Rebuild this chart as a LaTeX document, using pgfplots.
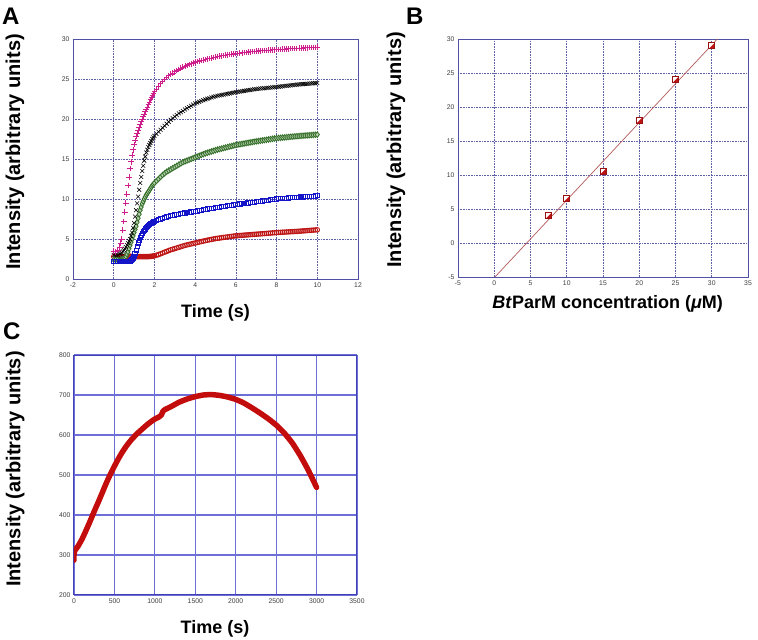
\documentclass[border=0pt]{standalone}
\usepackage{fontspec}
\setmainfont{Liberation Sans}
\usepackage{pgfplots}
\usepackage{pgfplotstable}
\pgfplotsset{compat=1.18}
\definecolor{axblue}{RGB}{80,80,165}
\definecolor{gridblue}{RGB}{95,95,165}
\definecolor{gridC}{RGB}{110,110,215}
\definecolor{magen}{RGB}{205,30,140}
\definecolor{dgreen}{RGB}{50,110,40}
\definecolor{lgreen}{RGB}{185,205,175}
\definecolor{mblue}{RGB}{20,20,200}
\definecolor{mred}{RGB}{190,20,20}
\definecolor{cred}{RGB}{195,12,12}
\definecolor{lineB}{RGB}{180,90,90}
\definecolor{tickgray}{RGB}{60,60,60}

\pgfdeclareplotmark{halfsq}{%
  \pgfpathrectangle{\pgfpoint{-\pgfplotmarksize}{-\pgfplotmarksize}}{\pgfpoint{2\pgfplotmarksize}{2\pgfplotmarksize}}%
  \pgfsetfillcolor{white}\pgfusepath{fill}%
  \pgfpathmoveto{\pgfpoint{-\pgfplotmarksize}{-\pgfplotmarksize}}%
  \pgfpathlineto{\pgfpoint{\pgfplotmarksize}{-\pgfplotmarksize}}%
  \pgfpathlineto{\pgfpoint{\pgfplotmarksize}{\pgfplotmarksize}}%
  \pgfpathclose
  \pgfsetfillcolor{mred}\pgfusepath{fill}%
  \pgfpathrectangle{\pgfpoint{-\pgfplotmarksize}{-\pgfplotmarksize}}{\pgfpoint{2\pgfplotmarksize}{2\pgfplotmarksize}}%
  \pgfusepath{stroke}%
}

\pgfplotstableread{
t m k g b r
0.0 3.5 3.0 2.4 2.2 2.8
0.1 3.4 3.0 2.4 2.2 2.75
0.2 3.6 3.0 2.4 2.2 2.8
0.3 4.0 3.1 2.4 2.2 2.85
0.35 4.5 3.2 2.42 2.2 2.82
0.4 5.0 3.3 2.45 2.2 2.8
0.45 6.1 3.45 2.47 2.2 2.78
0.5 7.2 3.6 2.5 2.2 2.75
0.55 8.35 3.8 2.65 2.2 2.78
0.6 9.5 4.0 2.8 2.2 2.8
0.65 10.6 4.25 3.1 2.2 2.8
0.7 11.7 4.5 3.4 2.2 2.8
0.75 12.75 4.75 3.8 2.2 2.82
0.8 13.8 5.0 4.2 2.2 2.85
0.85 14.65 5.4 4.6 2.3 2.82
0.9 15.5 5.8 5.0 2.4 2.8
0.95 16.15 6.4 5.4 2.6 2.78
1.0 16.8 7.0 5.8 2.8 2.75
1.05 17.3 7.8 6.2 3.2 2.78
1.1 17.8 8.6 6.6 3.6 2.8
1.15 18.2 9.45 7.1 4.05 2.8
1.2 18.6 10.3 7.6 4.5 2.8
1.25 18.95 11.15 8.1 4.85 2.8
1.3 19.3 12.0 8.6 5.2 2.8
1.35 19.65 12.75 9.0 5.45 2.8
1.4 20.0 13.5 9.4 5.7 2.8
1.45 20.3 14.15 9.7 5.9 2.8
1.5 20.6 14.8 10.0 6.1 2.8
1.55 20.9 15.3 10.25 6.25 2.8
1.6 21.2 15.8 10.5 6.4 2.8
1.65 21.5 16.15 10.7 6.55 2.8
1.7 21.8 16.5 10.9 6.7 2.8
1.75 22.1 16.75 11.1 6.8 2.81
1.8 22.4 17.0 11.3 6.9 2.82
1.85 22.65 17.25 11.5 6.98 2.83
1.9 22.9 17.5 11.7 7.05 2.85
1.95 23.15 17.7 11.85 7.13 2.87
2.0 23.4 17.9 12.0 7.2 2.9
2.1 23.75 18.15 12.25 7.3 2.97
2.2 24.1 18.4 12.5 7.4 3.05
2.3 24.4 18.65 12.75 7.5 3.15
2.4 24.7 18.9 13.0 7.6 3.25
2.5 24.95 19.15 13.2 7.68 3.35
2.6 25.2 19.4 13.4 7.75 3.45
2.7 25.4 19.65 13.55 7.83 3.55
2.8 25.6 19.9 13.7 7.9 3.65
2.9 25.75 20.1 13.85 7.95 3.72
3.0 25.9 20.3 14.0 8.0 3.8
3.1 26.05 20.5 14.15 8.05 3.88
3.2 26.2 20.7 14.3 8.1 3.96
3.3 26.35 20.85 14.45 8.15 4.04
3.4 26.5 21.0 14.6 8.2 4.12
3.5 26.6 21.2 14.7 8.25 4.2
3.6 26.7 21.35 14.8 8.29 4.26
3.7 26.8 21.5 14.9 8.33 4.32
3.8 26.9 21.65 15.0 8.37 4.38
3.9 27.0 21.8 15.1 8.41 4.44
4.0 27.1 21.95 15.2 8.45 4.5
4.1 27.17 22.05 15.3 8.5 4.56
4.2 27.24 22.15 15.4 8.55 4.62
4.3 27.31 22.25 15.5 8.6 4.68
4.4 27.38 22.35 15.6 8.65 4.74
4.5 27.45 22.45 15.7 8.7 4.8
4.6 27.51 22.53 15.78 8.74 4.85
4.7 27.57 22.61 15.86 8.78 4.9
4.8 27.63 22.69 15.94 8.82 4.95
4.9 27.69 22.77 16.02 8.86 5.0
5.0 27.75 22.85 16.1 8.9 5.05
5.1 27.8 22.9 16.17 8.94 5.09
5.2 27.85 22.95 16.24 8.98 5.12
5.3 27.9 23.0 16.3 9.02 5.16
5.4 27.94 23.05 16.37 9.06 5.19
5.5 27.98 23.1 16.43 9.1 5.23
5.6 28.02 23.15 16.5 9.14 5.26
5.7 28.06 23.2 16.56 9.18 5.3
5.8 28.1 23.25 16.62 9.22 5.33
5.9 28.14 23.3 16.69 9.26 5.37
6.0 28.18 23.35 16.75 9.3 5.4
6.1 28.21 23.39 16.8 9.33 5.42
6.2 28.24 23.43 16.84 9.37 5.44
6.3 28.27 23.47 16.89 9.4 5.46
6.4 28.3 23.51 16.93 9.44 5.48
6.5 28.33 23.55 16.98 9.47 5.5
6.6 28.36 23.59 17.02 9.51 5.52
6.7 28.39 23.63 17.07 9.54 5.54
6.8 28.42 23.67 17.11 9.58 5.56
6.9 28.45 23.71 17.16 9.61 5.58
7.0 28.48 23.75 17.2 9.65 5.6
7.1 28.5 23.78 17.24 9.68 5.62
7.2 28.52 23.8 17.28 9.72 5.64
7.3 28.54 23.83 17.32 9.75 5.66
7.4 28.56 23.85 17.36 9.79 5.68
7.5 28.58 23.88 17.4 9.82 5.7
7.6 28.6 23.9 17.44 9.86 5.72
7.7 28.62 23.93 17.48 9.89 5.74
7.8 28.64 23.95 17.52 9.93 5.76
7.9 28.66 23.98 17.56 9.96 5.78
8.0 28.68 24.0 17.6 10.0 5.8
8.1 28.7 24.03 17.63 10.02 5.82
8.2 28.71 24.06 17.65 10.04 5.83
8.3 28.73 24.09 17.68 10.06 5.85
8.4 28.74 24.12 17.7 10.08 5.86
8.5 28.76 24.15 17.73 10.1 5.88
8.6 28.77 24.18 17.75 10.12 5.89
8.7 28.79 24.21 17.78 10.14 5.91
8.8 28.8 24.24 17.8 10.16 5.92
8.9 28.82 24.27 17.83 10.18 5.94
9.0 28.83 24.3 17.85 10.2 5.95
9.1 28.85 24.32 17.87 10.22 5.97
9.2 28.86 24.34 17.89 10.24 5.99
9.3 28.87 24.36 17.91 10.26 6.01
9.4 28.89 24.38 17.93 10.28 6.03
9.5 28.9 24.4 17.95 10.3 6.05
9.6 28.92 24.42 17.97 10.32 6.07
9.7 28.93 24.44 17.99 10.34 6.09
9.8 28.95 24.46 18.01 10.36 6.11
9.9 28.96 24.48 18.03 10.38 6.13
10.0 28.98 24.5 18.05 10.4 6.15
}\kinetics

\pgfplotstableread{
c I
7.5 4.0
10 6.5
15 10.5
20 18.0
25 24.0
30 29.0
}\standard

\pgfplotstableread{
x y
0.1 -5.0
30.77 30.0
}\fitline

\pgfplotstableread{
t v
0 287
0 300
10 311
50 322
100 340
150 362
200 385
250 409
300 432
350 456
400 480
450 502
500 522
550 541
600 558
650 573
700 586
750 597
800 607
850 616
900 625
950 633
1000 640
1050 645
1080 650
1100 659
1120 663
1200 671
1300 682
1400 690
1500 696
1600 700
1700 701
1800 699
1900 695
2000 689
2100 680
2200 668
2300 655
2400 641
2500 625
2600 605
2700 580
2800 548
2900 511
3000 469
}\slow

\pgfplotsset{
  myax/.style={
    scale only axis,
    axis line style={draw=axblue, line width=0.8pt},
    major tick length=0pt,
    tick label style={font=\fontsize{6.8}{7}\selectfont, text=tickgray},
    /pgf/number format/assume math mode=true,
    /pgf/number format/1000 sep={},
    scaled ticks=false,
    grid=major,
    major grid style={draw=gridblue, line width=0.6pt, dash pattern=on 0.8pt off 0.8pt},
    xlabel style={anchor=center, font=\fontsize{18}{18}\selectfont\bfseries},
    ylabel style={anchor=center, font=\fontsize{20}{20}\selectfont\bfseries},
  }
}

\begin{document}
\begin{tikzpicture}
\path[use as bounding box] (0,0) rectangle (758pt,640pt);

% Panel A
\begin{axis}[myax, at={(73pt,361pt)}, anchor=south west,
  width=285pt, height=240pt,
  xmin=-2, xmax=12, ymin=0, ymax=30,
  xtick={-2,0,...,12}, ytick={0,5,...,30},
  xlabel={Time (s)}, ylabel={Intensity (arbitrary units)},
  xlabel style={at={(axis description cs:0.5,-0.142)}},
  ylabel style={at={(axis description cs:-0.204,0.53)}},
]
\addplot[only marks, mark=o, mark size=2.3pt, draw=mred, line width=0.9pt] table[x=t, y=r] {\kinetics};
\addplot[only marks, mark=diamond*, mark size=2.8pt, draw=dgreen, fill=lgreen, line width=0.8pt, mark options={fill=lgreen}] table[x=t, y=g] {\kinetics};
\addplot[only marks, mark=x, mark size=2.8pt, draw=black, line width=0.6pt] table[x=t, y=k] {\kinetics};
\addplot[only marks, mark=+, mark size=2.8pt, draw=magen, line width=0.9pt] table[x=t, y=m] {\kinetics};
\addplot[only marks, mark=square, mark size=2.1pt, draw=mblue, line width=1pt] table[x=t, y=b] {\kinetics};
\end{axis}

% Panel B
\begin{axis}[myax, at={(458pt,363pt)}, anchor=south west,
  width=290pt, height=238pt,
  xmin=-5, xmax=35, ymin=-5, ymax=30,
  xtick={-5,0,...,35}, ytick={-5,0,...,30},
  xlabel={\textit{Bt}ParM concentration (\textit{μ}M)},
  ylabel={Intensity (arbitrary units)},
  xlabel style={at={(axis description cs:0.516,-0.113)}},
  ylabel style={at={(axis description cs:-0.214,0.534)}},
]
\addplot[lineB, line width=0.7pt] table[x=x, y=y] {\fitline};
\addplot[only marks, mark=halfsq, mark size=3pt, draw=mred!80!black, line width=0.6pt] table[x=c, y=I] {\standard};
\end{axis}

% Panel C
\begin{axis}[myax, at={(74pt,45pt)}, anchor=south west,
  width=283pt, height=240pt,
  xmin=0, xmax=3500, ymin=200, ymax=800,
  xtick={0,500,...,3500}, ytick={200,300,...,800},
  major grid style={draw=gridC, line width=1.1pt, solid},
  axis line style={draw=axblue!80!blue, line width=1pt},
  xlabel={Time (s)}, ylabel={Intensity (arbitrary units)},
  xlabel style={at={(axis description cs:0.498,-0.142)}},
  ylabel style={at={(axis description cs:-0.208,0.525)}},
]
\addplot[draw=cred, line width=5.5pt, line cap=round, line join=round, smooth, tension=0.3] table[x=t, y=v] {\slow};
\end{axis}

% panel letters
\node[anchor=base west, inner sep=0pt, font=\fontsize{24}{24}\selectfont\bfseries] at (2pt,615pt) {A};
\node[anchor=base west, inner sep=0pt, font=\fontsize{24}{24}\selectfont\bfseries] at (406pt,615pt) {B};
\node[anchor=base west, inner sep=0pt, font=\fontsize{24}{24}\selectfont\bfseries] at (3pt,300pt) {C};
\end{tikzpicture}
\end{document}
